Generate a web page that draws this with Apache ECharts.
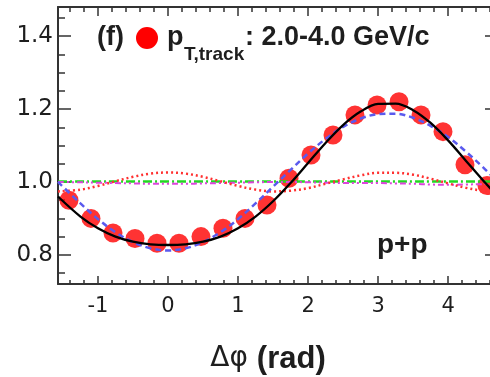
<!DOCTYPE html>
<html>
<head>
<meta charset="utf-8">
<script src="https://cdn.jsdelivr.net/npm/echarts@6/dist/echarts.min.js"></script>
<style>
  html, body { margin: 0; padding: 0; background: #ffffff; }
  #chart { width: 490px; height: 377px; }
</style>
</head>
<body>
<div id="chart"></div>
<script>
// Δφ bin centres (rad) and the measured p+p correlation
const phiBins = [-1.414, -1.100, -0.785, -0.471, -0.157, 0.157, 0.471, 0.785, 1.100, 1.414,
                 1.728, 2.042, 2.356, 2.670, 2.985, 3.299, 3.613, 3.927, 4.241, 4.555];
const yieldPP = [0.950, 0.900, 0.860, 0.845, 0.832, 0.832, 0.850, 0.873, 0.900, 0.937,
                 1.010, 1.074, 1.129, 1.184, 1.211, 1.220, 1.184, 1.138, 1.047, 0.990];

// Δφ sampling for the fit curves
const curvePhi = [-1.571, -1.25, -1.0, -0.75, -0.5, -0.25, 0.0, 0.25, 0.5, 0.75, 1.0, 1.25, 1.5,
                  1.75, 2.0, 2.25, 2.5, 2.75, 3.0, 3.25, 3.5, 3.75, 4.0, 4.25, 4.5, 4.712];
// total fit (solid black)
const fitTotal = [0.960, 0.905, 0.873, 0.850, 0.836, 0.829, 0.827, 0.829, 0.836, 0.850, 0.873, 0.905, 0.947,
                  0.997, 1.052, 1.107, 1.156, 1.193, 1.214, 1.215, 1.197, 1.162, 1.114, 1.059, 1.004, 0.960];
// first harmonic (blue dashed)
const fitV1 = [1.000, 0.941, 0.898, 0.862, 0.835, 0.818, 0.812, 0.818, 0.835, 0.862, 0.898, 0.941, 0.987,
               1.033, 1.078, 1.118, 1.151, 1.174, 1.186, 1.187, 1.176, 1.154, 1.123, 1.084, 1.040, 1.000];
// second harmonic (red dotted)
const fitV2 = [0.974, 0.979, 0.989, 1.002, 1.014, 1.023, 1.026, 1.023, 1.014, 1.002, 0.989, 0.979, 0.974,
               0.976, 0.983, 0.995, 1.007, 1.018, 1.025, 1.025, 1.020, 1.009, 0.996, 0.984, 0.976, 0.974];
// third harmonic (green dash-dot)
const fitV3 = [1.001, 1.001, 1.001, 1.001, 1.001, 1.001, 1.001, 1.001, 1.001, 1.001, 1.001, 1.001, 1.001,
               1.001, 1.001, 1.001, 1.001, 1.001, 1.001, 1.001, 1.001, 1.001, 1.001, 1.001, 1.001, 1.001];
// fourth harmonic (magenta dash-dot-dot)
const fitV4 = [1.000, 0.999, 0.998, 0.997, 0.996, 0.995, 0.995, 0.995, 0.996, 0.997, 0.998, 0.999, 1.000,
               1.000, 0.999, 0.998, 0.997, 0.997, 0.997, 0.996, 0.995, 0.993, 0.992, 0.993, 0.994, 0.995];

// axis ticks
const xMajor = [-1, 0, 1, 2, 3, 4];
const xMinor = [-1.4, -1.2, -0.8, -0.6, -0.4, -0.2, 0.2, 0.4, 0.6, 0.8, 1.2, 1.4, 1.6, 1.8,
                2.2, 2.4, 2.6, 2.8, 3.2, 3.4, 3.6, 3.8, 4.2, 4.4, 4.6];
const yMajor = [0.8, 1.0, 1.2, 1.4];
const yMinor = [0.75, 0.85, 0.9, 0.95, 1.05, 1.1, 1.15, 1.25, 1.3, 1.35, 1.45];

const X_MIN = -Math.PI / 2, X_MAX = 3 * Math.PI / 2;
const Y_MIN = 0.72, Y_MAX = 1.48;
const AXIS_COLOR = '#333333';
const TEXT_COLOR = '#1e1e1e';

const zip = (xs, ys) => xs.map((x, i) => [x, ys[i]]);

function xAxisDef(position, ticks, len, showLine, showLabel) {
  return {
    type: 'value', min: X_MIN, max: X_MAX, position: position,
    axisLine: { show: showLine, onZero: false, lineStyle: { color: AXIS_COLOR, width: 2 } },
    axisTick: { show: true, inside: true, length: len, customValues: ticks,
                lineStyle: { color: AXIS_COLOR, width: 1.5 } },
    axisLabel: { show: showLabel, customValues: ticks, color: TEXT_COLOR,
                 fontFamily: 'DejaVu Sans', fontSize: 21, margin: 12 },
    splitLine: { show: false }
  };
}
function yAxisDef(position, ticks, len, showLine, showLabel) {
  return {
    type: 'value', min: Y_MIN, max: Y_MAX, position: position,
    axisLine: { show: showLine, onZero: false, lineStyle: { color: AXIS_COLOR, width: 2 } },
    axisTick: { show: true, inside: true, length: len, customValues: ticks,
                lineStyle: { color: AXIS_COLOR, width: 1.5 } },
    axisLabel: { show: showLabel, customValues: ticks, color: TEXT_COLOR,
                 fontFamily: 'DejaVu Sans', fontSize: 23, margin: 5,
                 formatter: v => v.toFixed(1) },
    splitLine: { show: false }
  };
}

function curve(data, color, width, dash, z) {
  return {
    type: 'line', data: data, smooth: 0.35, symbol: 'none', z: z,
    lineStyle: { color: color, width: width, type: dash },
    silent: true
  };
}

const chart = echarts.init(document.getElementById('chart'), null, { renderer: 'canvas' });
chart.setOption({
  animation: false,
  backgroundColor: '#ffffff',
  grid: { left: 58, right: -8, top: 7, bottom: 93, containLabel: false, outerBoundsMode: 'none' },
  xAxis: [
    xAxisDef('bottom', xMajor, 8, true, true),
    xAxisDef('bottom', xMinor, 4, false, false),
    xAxisDef('top', xMajor, 9, true, false),
    xAxisDef('top', xMinor, 5, false, false)
  ],
  yAxis: [
    yAxisDef('left', yMajor, 13, true, true),
    yAxisDef('left', yMinor, 7, false, false),
    yAxisDef('right', yMajor, 13, true, false),
    yAxisDef('right', yMinor, 7, false, false)
  ],
  series: [
    {
      type: 'scatter', data: zip(phiBins, yieldPP), symbol: 'circle', symbolSize: 19, z: 2,
      itemStyle: { color: '#ff0000' }, silent: true
    },
    curve(zip(curvePhi, fitV3), '#22d822', 2.5, [9, 3, 2, 3], 3),
    curve(zip(curvePhi, fitV4), '#dd44dd', 2, [6, 3, 2, 3, 2, 3], 3),
    curve(zip(curvePhi, fitV2), '#ff3030', 2.5, [2, 3], 3),
    curve(zip(curvePhi, fitV1), '#5a5aee', 2.5, [6, 4], 4),
    curve(zip(curvePhi, fitTotal), '#000000', 2.3, 'solid', 5)
  ],
  graphic: [
    { type: 'text', left: 97, top: 24,
      style: { text: '(f)', font: 'bold 27px "Liberation Sans"', fill: TEXT_COLOR } },
    { type: 'circle', shape: { cx: 147, cy: 38, r: 11 }, style: { fill: '#ff0000' } },
    { type: 'text', x: 167, y: 38,
      style: { text: 'p', font: 'bold 27px "Liberation Sans"', fill: TEXT_COLOR,
               align: 'left', verticalAlign: 'middle' } },
    { type: 'text', x: 184, y: 55,
      style: { text: 'T,track', font: 'bold 19px "Liberation Sans"', fill: TEXT_COLOR,
               align: 'left', verticalAlign: 'middle' } },
    { type: 'text', x: 245, y: 38,
      style: { text: ': 2.0-4.0 GeV/c', font: 'bold 27px "Liberation Sans"', fill: TEXT_COLOR,
               align: 'left', verticalAlign: 'middle' } },
    { type: 'text', x: 377, y: 245,
      style: { text: 'p+p', font: 'bold 28px "Liberation Sans"', fill: TEXT_COLOR,
               align: 'left', verticalAlign: 'middle' } },
    { type: 'text', x: 268, y: 359,
      style: { text: '{g|Δφ }{b|(rad)}', align: 'center', verticalAlign: 'middle',
               rich: {
                 g: { font: '28px "DejaVu Sans"', fill: TEXT_COLOR },
                 b: { font: 'bold 31px "Liberation Sans"', fill: TEXT_COLOR }
               } } }
  ]
});
</script>
</body>
</html>
